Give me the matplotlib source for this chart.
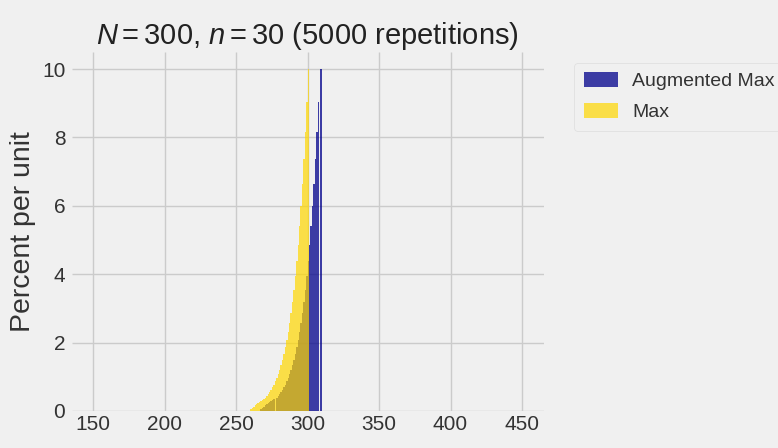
import matplotlib
matplotlib.use("Agg")
import matplotlib.pyplot as plt

# ---------------- data (percent per unit, unit-width bins) ----------------
max_bins = list(range(260, 301))
max_heights = [0.06, 0.10, 0.12, 0.17, 0.20, 0.22, 0.25, 0.28, 0.31, 0.35,   # 260-269
               0.39, 0.44, 0.49, 0.55, 0.62, 0.69, 0.77, 0.87, 0.97, 1.08,   # 270-279
               1.20, 1.35, 1.50, 1.68, 1.87, 2.08, 2.32, 2.58, 2.87, 3.19,   # 280-289
               3.55, 3.94, 4.38, 4.86, 5.40, 6.00, 6.64, 7.36, 8.15, 9.03,   # 290-299
               10.0]                                                         # 300

aug_bins = list(range(267, 310))
aug_heights = [0.06, 0.10, 0.12,                                             # 267-269
               0.17, 0.20, 0.22, 0.25, 0.28, 0.31, 0.35, 0.0, 0.39, 0.44,    # 270-279
               0.49, 0.55, 0.62, 0.69, 0.77, 0.87, 0.97, 1.08, 1.20, 1.35,   # 280-289
               1.50, 1.68, 1.87, 2.08, 2.32, 2.58, 2.87, 3.19, 3.55, 3.94,   # 290-299
               4.38, 4.86, 5.40, 6.00, 6.64, 7.36, 8.15, 9.03, 0.0, 10.0]    # 300-309

xtick_vals = [150, 200, 250, 300, 350, 400, 450]
ytick_vals = [0, 2, 4, 6, 8, 10]
series_labels = ["Augmented Max", "Max"]
title_text = r"$N = $300, $n = $30 (5000 repetitions)"
ylabel_text = "Percent per unit"

# ---------------- style ----------------
plt.style.use("fivethirtyeight")
plt.rcParams["font.family"] = ["Liberation Sans", "DejaVu Sans"]
plt.rcParams["mathtext.fontset"] = "custom"
plt.rcParams["mathtext.rm"] = "Liberation Sans"
plt.rcParams["mathtext.it"] = "Liberation Sans:italic"

fig = plt.figure(figsize=(7.78, 4.48), dpi=100)
fig.patch.set_facecolor("#f0f0f0")
ax = fig.add_axes([0.092, 0.0826, 0.6066, 0.8014])
ax.set_facecolor("#f0f0f0")
ax.set_axisbelow(True)

ax.bar(aug_bins, aug_heights, width=1.0, align="edge",
       color="darkblue", alpha=0.75, linewidth=0, label=series_labels[0])
ax.bar(max_bins, max_heights, width=1.0, align="edge",
       color="gold", alpha=0.7, linewidth=0, label=series_labels[1])

ax.set_xlim(135, 465)
ax.set_ylim(0, 10.5)
ax.set_xticks(xtick_vals)
ax.set_yticks(ytick_vals)
ax.tick_params(axis="both", labelsize=15, length=0, colors="#333333")
ax.tick_params(axis="x", pad=3)
ax.tick_params(axis="y", pad=4.5)
ax.grid(True, color="#cbcbcb", linewidth=1)
for s in ax.spines.values():
    s.set_visible(False)

ax.set_ylabel(ylabel_text, fontsize=20.5, color="#333333", labelpad=4)
ax.set_title(title_text, fontsize=21, color="#222222", pad=5)

leg = ax.legend(loc="upper left", bbox_to_anchor=(1.0655, 0.97),
                borderaxespad=0, fontsize=14, frameon=True,
                facecolor="#f0f0f0", edgecolor="#d8d8d8",
                handlelength=1.75, handleheight=0.77, handletextpad=0.72,
                labelspacing=0.65, borderpad=0.5)
for t in leg.get_texts():
    t.set_color("#333333")

fig.savefig("out.png", dpi=100, facecolor=fig.get_facecolor())
